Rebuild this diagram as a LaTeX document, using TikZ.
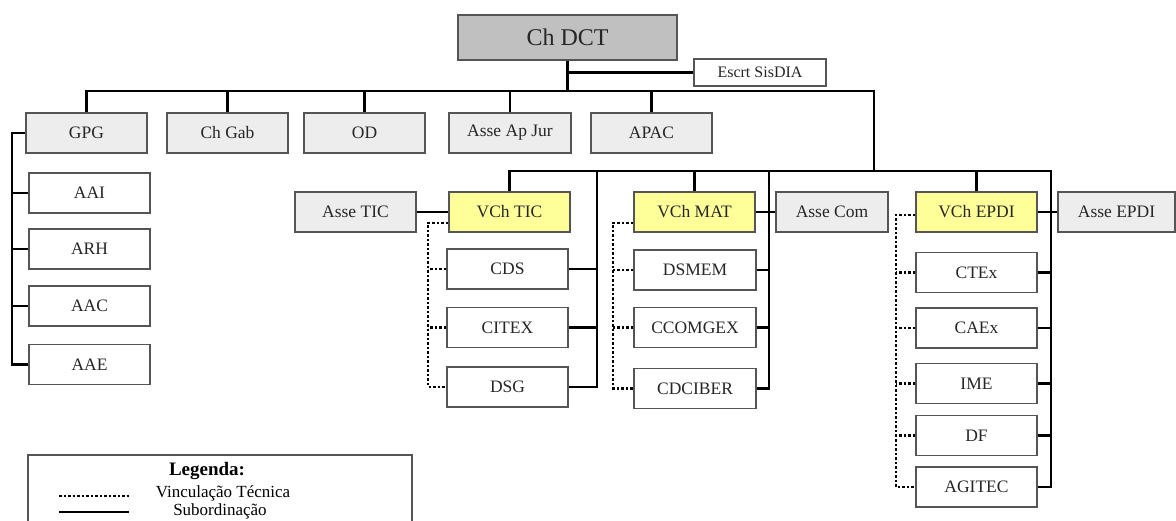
\documentclass[tikz,border=0pt]{standalone}
\usepackage{fontspec}
\setmainfont{Liberation Serif}
\usepackage{tikz}
\usetikzlibrary{positioning}

\definecolor{chefe}{HTML}{C0C0C0}
\definecolor{assess}{HTML}{EDEDED}
\definecolor{vice}{HTML}{FFFF99}
\definecolor{borda}{HTML}{555555}

\tikzset{
	caixa/.style={draw=borda,line width=1.6pt,minimum width=121pt,minimum height=40pt,inner sep=0pt,font=\fontsize{17.5}{20}\selectfont,text=black!85},
	cinza/.style={caixa,fill=assess},
	amarela/.style={caixa,fill=vice},
	branca/.style={caixa,fill=white},
	sub/.style={line width=2.2pt},
	vinc/.style={line width=2.2pt,dash pattern=on 2.5pt off 2pt},
}

\begin{document}
\begin{tikzpicture}[x=1pt,y=-1pt]
	\useasboundingbox (0,0) rectangle (1176,521);
	% chefia e primeiro nivel
	\node[caixa,fill=chefe,minimum width=219pt,minimum height=45pt,font=\fontsize{24}{26}\selectfont] (chdct) at (567.5,37.5) {Ch DCT};
	\node[branca,minimum width=132pt,minimum height=27pt,font=\fontsize{16}{18}\selectfont] (escrt) at (760,72.5) {Escrt SisDIA};
	\node[cinza] (gpg) at (86.5,133) {GPG};
	\node[cinza] (chgab) at (227.5,133) {Ch Gab};
	\node[cinza] (od) at (364.5,133) {OD};
	\node[cinza,minimum width=122pt] (apjur) at (510,133) {Asse Ap Jur};
	\node[cinza] (apac) at (651.5,133) {APAC};
	% GPG
	\node[branca] (aai) at (89.5,193) {AAI};
	\node[branca] (arh) at (89.5,249) {ARH};
	\node[branca] (aac) at (89.5,306) {AAC};
	\node[branca] (aae) at (89.5,364.5) {AAE};
	% vice-chefias
	\node[cinza] (assetic) at (355.5,212) {Asse TIC};
	\node[amarela] (vchtic) at (509.5,212) {VCh TIC};
	\node[amarela] (vchmat) at (694.5,212) {VCh MAT};
	\node[cinza,minimum width=112pt] (assecom) at (832,212) {Asse Com};
	\node[amarela] (vchepdi) at (976.5,212) {VCh EPDI};
	\node[cinza,minimum width=117pt] (asseepdi) at (1116.5,212) {Asse EPDI};
	% OM
	\node[branca] (cds) at (507.5,269) {CDS};
	\node[branca] (citex) at (507.5,327.5) {CITEX};
	\node[branca] (dsg) at (507.5,387) {DSG};
	\node[branca,minimum width=122pt] (dsmem) at (695,270) {DSMEM};
	\node[branca,minimum width=122pt] (ccomgex) at (695,327.5) {CCOMGEX};
	\node[branca,minimum width=122pt] (cdciber) at (695,388.5) {CDCIBER};
	\node[branca] (ctex) at (976.5,272.5) {CTEx};
	\node[branca] (caex) at (976.5,328) {CAEx};
	\node[branca] (ime) at (976.5,383.5) {IME};
	\node[branca] (df) at (976.5,435.5) {DF};
	\node[branca] (agitec) at (976.5,487) {AGITEC};

	% subordinacao
	\coordinate (barra) at (874,91);
	\coordinate (barra2) at (874,171);
	\coordinate (gtr) at (12,0);
	\coordinate (tictr) at (597,171);
	\coordinate (mattr) at (769,171);
	\coordinate (eptr) at (1051,171);
	\draw[sub] (chdct.south) -- (chdct.south |- barra);
	\draw[sub] (chdct.south |- escrt.west) -- (escrt.west);
	\draw[sub] (gpg.north) |- (barra) -- (barra2);
	\foreach \n in {chgab,od,apjur,apac}
		\draw[sub] (\n.north) -- (\n.north |- barra);
	\draw[sub] (vchtic.north) |- (eptr) |- (agitec.east);
	\draw[sub] (vchmat.north) -- (vchmat.north |- barra2);
	\draw[sub] (vchepdi.north) -- (vchepdi.north |- barra2);
	\draw[sub] (gpg.west) -| (gtr |- aae.west) -- (aae.west);
	\foreach \n in {aai,arh,aac}
		\draw[sub] (\n.west) -- (\n.west -| gtr);
	\draw[sub] (assetic.east) -- (vchtic.west);
	\draw[sub] (vchmat.east) -- (assecom.west);
	\draw[sub] (vchepdi.east) -- (asseepdi.west);
	\draw[sub] (tictr) |- (dsg.east);
	\draw[sub] (mattr) |- (cdciber.east);
	\foreach \n in {cds,citex}
		\draw[sub] (\n.east) -- (\n.east -| tictr);
	\foreach \n in {dsmem,ccomgex}
		\draw[sub] (\n.east) -- (\n.east -| mattr);
	\foreach \n in {ctex,caex,ime,df}
		\draw[sub] (\n.east) -- (\n.east -| eptr);

	% vinculacao tecnica
	\draw[vinc] ([yshift=-11pt]vchtic.west) -- ++(-20,0) |- (dsg.west);
	\draw[vinc] ([yshift=-11pt]vchmat.west) -- ++(-20,0) |- (cdciber.west);
	\draw[vinc] ([yshift=-3pt]vchepdi.west) -- ++(-19,0) |- (agitec.west);
	\foreach \n in {cds,citex}
		\draw[vinc] (\n.west) -- ++(-18,0);
	\foreach \n in {dsmem,ccomgex}
		\draw[vinc] (\n.west) -- ++(-20,0);
	\foreach \n in {ctex,caex,ime,df}
		\draw[vinc] (\n.west) -- ++(-19,0);

	% legenda
	\draw[draw=borda,line width=1.4pt] (28,521) |- (412,455) -- (412,521);
	\node[font=\bfseries\fontsize{19}{20}\selectfont] (leg) at (207,471) {Legenda:};
	\coordinate (l1a) at (59,496);
	\coordinate (l1b) at (129,496);
	\coordinate (l2a) at (59,512);
	\coordinate (l2b) at (129,512);
	\draw[vinc,line width=1.4pt] (l1a) -- (l1b);
	\draw[sub,line width=1.6pt] (l2a) -- (l2b);
	\node[font=\fontsize{17}{18}\selectfont] (lvinc) at (223,493) {Vinculação Técnica};
	\node[font=\fontsize{17}{18}\selectfont] (lsub) at (220,511) {Subordinação};
\end{tikzpicture}
\end{document}
